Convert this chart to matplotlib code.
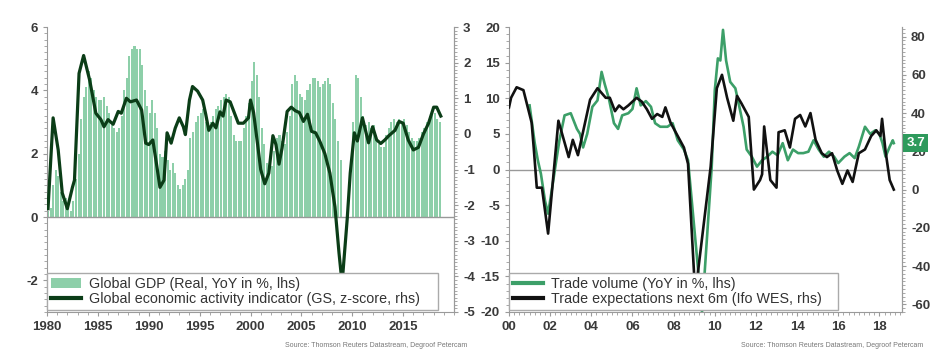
import numpy as np
import matplotlib
matplotlib.use("Agg")
from matplotlib import pyplot as plt
from matplotlib.ticker import MultipleLocator

plt.rcParams['font.family'] = ['Liberation Sans', 'DejaVu Sans']
plt.rcParams['font.weight'] = 'bold'
plt.rcParams['axes.unicode_minus'] = False

# ---- left panel data ----
gdp_start = 1980.0  # quarterly bars
gdp = [0.2, 0.3, 1.0, 1.5,  1.3, 0.8, 0.5, 0.6,  0.4, 0.2, 0.5, 1.2,
       2.0, 3.1, 3.8, 4.1,  4.6, 4.4, 4.0, 3.8,  3.7, 3.7, 3.8, 3.5,
       3.3, 2.9, 2.8, 2.7,  2.8, 3.2, 4.0, 4.4,  5.1, 5.3, 5.4, 5.3,
       5.3, 4.8, 4.0, 3.5,  3.3, 3.7, 3.3, 2.8,  2.0, 1.9, 2.1, 1.8,
       1.5, 1.7, 1.4, 1.0,  0.9, 1.0, 1.2, 1.5,  2.5, 2.7, 3.0, 3.2,
       3.3, 3.4, 3.0, 2.8,  3.0, 3.2, 3.4, 3.5,  3.7, 3.8, 3.9, 3.8,
       3.2, 2.6, 2.4, 2.4,  2.4, 2.8, 3.2, 3.6,  4.3, 4.9, 4.5, 3.8,
       2.8, 2.3, 1.7, 1.5,  1.6, 2.1, 2.5, 2.6,  2.4, 2.3, 2.7, 3.2,
       4.2, 4.5, 4.3, 3.9,  3.8, 3.7, 4.0, 4.2,  4.4, 4.4, 4.3, 4.1,
       4.2, 4.3, 4.4, 4.2,  3.6, 3.1, 2.4, 1.8,  0.0, 0.0, 0.0, 0.0,
       3.0, 4.5, 4.4, 3.8,  3.2, 2.9, 3.0, 2.8,  2.9, 2.6, 2.3, 2.2,
       2.2, 2.6, 2.8, 3.0,  3.1, 3.0, 3.1, 3.0,  3.1, 2.9, 2.7, 2.5,
       2.4, 2.4, 2.5, 2.7,  2.8, 3.0, 3.2, 3.3,  3.3, 3.1, 3.0]

gs_years = [1980.1, 1980.6, 1981.1, 1981.5, 1982.0, 1982.5, 1982.7, 1983.15, 1983.6, 1984.2,
            1984.8, 1985.3, 1985.6, 1986.0, 1986.5, 1987.0, 1987.3, 1987.8, 1988.2, 1988.8,
            1989.3, 1989.7, 1990.0, 1990.4, 1990.8, 1991.1, 1991.5, 1991.8, 1992.2, 1992.6,
            1993.0, 1993.4, 1993.6, 1994.0, 1994.3, 1994.8, 1995.3, 1995.6, 1995.9, 1996.3,
            1996.6, 1997.0, 1997.3, 1997.6, 1998.0, 1998.4, 1998.8, 1999.3, 1999.8, 2000.0,
            2000.3, 2000.7, 2001.0, 2001.4, 2001.8, 2002.2, 2002.5, 2002.8, 2003.1, 2003.6,
            2004.0, 2004.4, 2004.8, 2005.2, 2005.6, 2006.0, 2006.4, 2006.8, 2007.3, 2007.8,
            2008.3, 2008.7, 2009.0, 2009.5, 2009.8, 2010.2, 2010.5, 2011.0, 2011.3, 2011.6,
            2012.0, 2012.4, 2012.8, 2013.2, 2013.6, 2014.2, 2014.6, 2015.0, 2015.5, 2016.0,
            2016.5, 2017.0, 2017.5, 2018.0, 2018.3, 2018.7]
gs_index = [-2.1, 0.45, -0.45, -1.66, -2.1, -1.5, -1.3, 1.7, 2.2, 1.5,
            0.58, 0.4, 0.2, 0.4, 0.27, 0.63, 0.58, 1.0, 0.9, 0.95,
            0.67, -0.26, -0.3, -0.17, -0.92, -1.5, -1.3, 0.03, -0.26, 0.16,
            0.45, 0.2, -0.02, 0.95, 1.33, 1.2, 0.95, 0.55, 0.1, 0.3,
            0.17, 0.62, 0.5, 0.95, 0.9, 0.6, 0.3, 0.3, 0.45, 0.95,
            0.6, -0.3, -1.0, -1.4, -1.1, -0.05, -0.3, -0.85, -0.4, 0.63,
            0.75, 0.65, 0.6, 0.35, 0.55, 0.07, 0.03, -0.2, -0.55, -1.1,
            -2.05, -3.35, -4.2, -2.4, -1.1, 0.03, -0.2, 0.45, 0.1, -0.25,
            0.2, -0.17, -0.27, -0.17, -0.05, 0.1, 0.35, 0.3, -0.17, -0.45,
            -0.38, 0.0, 0.3, 0.75, 0.75, 0.5]

# ---- right panel data ----
tv_years = [2001.0, 2001.25, 2001.4, 2001.55, 2001.75, 2001.9, 2002.1, 2002.3, 2002.45, 2002.7,
            2003.0, 2003.3, 2003.45, 2003.6, 2003.8, 2004.05, 2004.3, 2004.5, 2004.65, 2004.85,
            2005.1, 2005.3, 2005.5, 2005.8, 2006.0, 2006.2, 2006.4, 2006.65, 2006.9, 2007.1,
            2007.35, 2007.7, 2007.95, 2008.2, 2008.5, 2008.7, 2009.38, 2009.85, 2010.0, 2010.15,
            2010.27, 2010.4, 2010.55, 2010.75, 2011.0, 2011.15, 2011.4, 2011.55, 2011.8, 2012.05,
            2012.3, 2012.55, 2012.8, 2013.05, 2013.3, 2013.55, 2013.8, 2014.05, 2014.3, 2014.55,
            2014.8, 2015.05, 2015.3, 2015.55, 2015.8, 2016.0, 2016.3, 2016.55, 2016.8, 2017.0,
            2017.3, 2017.55, 2017.8, 2018.0, 2018.15, 2018.3, 2018.5, 2018.65, 2018.7]
trade_volume = [9.0, 3.7, 1.3, -0.6, -4.4, -6.2, -2.5, 1.3, 4.1, 7.6,
                7.9, 5.7, 5.0, 3.1, 5.0, 8.8, 9.7, 13.7, 12.0, 10.0,
                6.5, 5.7, 7.6, 7.9, 8.5, 11.4, 9.0, 9.6, 8.8, 6.5,
                6.0, 6.0, 6.5, 4.1, 2.8, 1.3, -20.0, 0.3, 11.1, 15.6,
                15.3, 19.6, 15.3, 12.3, 11.4, 9.4, 6.0, 2.8, 1.8, 0.4,
                1.3, 1.8, 2.5, 2.0, 3.7, 1.3, 2.8, 2.3, 2.3, 2.5,
                4.1, 2.8, 1.8, 2.5, 1.8, 0.9, 1.8, 2.3, 1.6, 3.2,
                6.0, 5.0, 5.5, 5.0, 3.7, 1.8, 3.2, 4.1, 3.7]

te_years = [2000.0, 2000.1, 2000.37, 2000.7, 2001.1, 2001.2, 2001.35, 2001.6, 2001.9, 2002.4,
            2002.9, 2003.1, 2003.35, 2003.94, 2004.3, 2004.7, 2004.9, 2005.15, 2005.35, 2005.56,
            2005.8, 2006.2, 2006.45, 2006.7, 2006.95, 2007.2, 2007.45, 2007.6, 2007.85, 2008.2,
            2008.5, 2008.7, 2009.05, 2009.8, 2010.1, 2010.35, 2010.6, 2010.9, 2011.08, 2011.3,
            2011.65, 2011.9, 2012.2, 2012.3, 2012.4, 2012.7, 2013.0, 2013.1, 2013.4, 2013.65,
            2013.9, 2014.15, 2014.4, 2014.65, 2014.9, 2015.2, 2015.45, 2015.7, 2015.95, 2016.2,
            2016.45, 2016.7, 2017.0, 2017.3, 2017.6, 2017.85, 2018.05, 2018.13, 2018.3, 2018.5,
            2018.7]
trade_expect = [43, 48, 53.5, 52, 35, 22, 1, 1, -23, 36,
                17, 26, 18, 47, 53, 48, 48, 41, 44, 42,
                44, 48, 46, 42, 37, 39.5, 38, 43, 35, 28,
                22, 13.5, -55, 12, 53, 60, 48, 36, 49, 45,
                38, 0, 5, 8, 33, 5, 1, 30, 31, 22,
                37, 39, 33, 40, 26, 19, 17, 19, 10, 3,
                10, 4, 19, 21, 28, 31, 28, 37, 20, 5,
                0]

bar_green = '#8dcfa9'
dark_green = '#0b3d17'
line_green = '#3c9f68'
spine_gray = '#9a9a9a'
label_col = '#3a3a3a'

fig = plt.figure(figsize=(9.4, 3.56), dpi=100)
ax1 = fig.add_axes([0.050, 0.1236, 0.433, 0.8005])
ax3 = fig.add_axes([0.5415, 0.1236, 0.4181, 0.8005])


def style_axes(ax, twin):
    for a in (ax, twin):
        a.spines['top'].set_visible(False)
        for s in ('left', 'right', 'bottom'):
            a.spines[s].set_color(spine_gray)
        a.tick_params(colors=spine_gray, labelcolor=label_col, labelsize=9.5,
                      length=3, width=0.8)
        a.tick_params(which='minor', length=2, width=0.6, colors=spine_gray)
    twin.spines['left'].set_visible(False)
    twin.spines['bottom'].set_visible(False)


def style_legend(leg):
    leg.get_frame().set_linewidth(1.0)
    for t in leg.get_texts():
        t.set_color('#333333')
        t.set_fontweight('normal')
    for h in leg.get_lines():
        h.set_linewidth(3)


# ---- left panel ----
gdp_x = gdp_start + 0.25 * np.arange(len(gdp))
bars = ax1.bar(gdp_x, gdp, width=0.2, color=bar_green, linewidth=0, align='edge')
ax1.axhline(0, color='#999999', lw=1, zorder=1)
ax1.set_xlim(1980, 2020)
ax1.set_ylim(-3, 6)
ax1.set_yticks([-2, 0, 2, 4, 6])
ax1.yaxis.set_minor_locator(MultipleLocator(0.2))
ax1.set_xticks([1980, 1985, 1990, 1995, 2000, 2005, 2010, 2015])
ax1.xaxis.set_minor_locator(MultipleLocator(1))

ax2 = ax1.twinx()
gs_line, = ax2.plot(gs_years, gs_index, color=dark_green, lw=2.3)
ax2.set_ylim(-5, 3)
ax2.set_yticks([-5, -4, -3, -2, -1, 0, 1, 2, 3])
ax2.yaxis.set_minor_locator(MultipleLocator(0.1))
style_axes(ax1, ax2)

leg1 = ax2.legend([bars, gs_line],
                  ['Global GDP (Real, YoY in %, lhs)',
                   'Global economic activity indicator (GS, z-score, rhs)'],
                  loc='lower left', bbox_to_anchor=(0.0, 0.007, 0.96, 0.13),
                  mode='expand', fancybox=False, framealpha=1, edgecolor='#aaaaaa',
                  fontsize=10.3, handlelength=2.1, handletextpad=0.6,
                  borderaxespad=0, labelspacing=0.1, borderpad=0.25)
style_legend(leg1)

# ---- right panel ----
tv_line, = ax3.plot(tv_years, trade_volume, color=line_green, lw=1.9)
ax3.axhline(0, color='#999999', lw=1, zorder=1)
ax3.set_xlim(2000, 2019.1)
ax3.set_ylim(-20, 20)
ax3.set_yticks([-20, -15, -10, -5, 0, 5, 10, 15, 20])
ax3.yaxis.set_minor_locator(MultipleLocator(1))
ax3.set_xticks([2000, 2002, 2004, 2006, 2008, 2010, 2012, 2014, 2016, 2018])
ax3.set_xticklabels(['00', '02', '04', '06', '08', '10', '12', '14', '16', '18'])
ax3.xaxis.set_minor_locator(MultipleLocator(0.25))

ax4 = ax3.twinx()
te_line, = ax4.plot(te_years, trade_expect, color='#111111', lw=1.9)
ax4.set_ylim(-64, 85)
ax4.set_yticks([-60, -40, -20, 0, 20, 40, 60, 80])
ax4.yaxis.set_minor_locator(MultipleLocator(2))
style_axes(ax3, ax4)

leg2 = ax4.legend([tv_line, te_line],
                  ['Trade volume (YoY in %, lhs)',
                   'Trade expectations next 6m (Ifo WES, rhs)'],
                  loc='lower left', bbox_to_anchor=(0.0, 0.007, 0.837, 0.13),
                  mode='expand', fancybox=False, framealpha=1, edgecolor='#aaaaaa',
                  fontsize=10.3, handlelength=2.1, handletextpad=0.6,
                  borderaxespad=0, labelspacing=0.1, borderpad=0.25)
style_legend(leg2)

# last value tag
ax4.annotate('3.7', xy=(1.0, trade_volume[-1]), xycoords=('axes fraction', ax3.transData),
             xytext=(3, 0), textcoords='offset points', ha='left', va='center',
             color='white', fontsize=9.5, fontweight='bold', zorder=10,
             bbox=dict(boxstyle='square,pad=0.25', fc='#2e9a5c', ec='none'),
             annotation_clip=False)

src = 'Source: Thomson Reuters Datastream, Degroof Petercam'
fig.text(0.497, 0.03, src, ha='right', va='center', fontsize=5, color='#777777',
         fontweight='normal')
fig.text(0.982, 0.03, src, ha='right', va='center', fontsize=5, color='#777777',
         fontweight='normal')

fig.savefig('out.png', dpi=100)
